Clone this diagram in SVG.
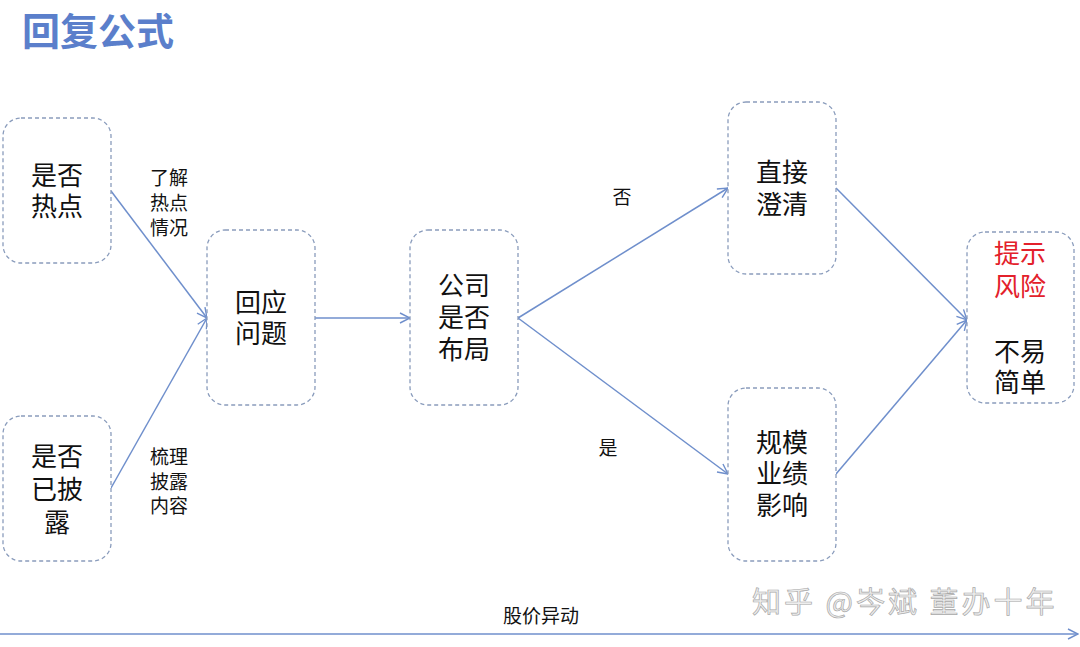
<svg xmlns="http://www.w3.org/2000/svg" width="1080" height="647" viewBox="0 0 1080 647">
<defs>
<style>
.box{fill:#ffffff;stroke:#8a9cbc;stroke-width:1.3;stroke-dasharray:4 3}
.t{font-family:"Noto Sans CJK SC","Noto Sans",sans-serif;font-size:26px;fill:#111;text-anchor:middle}
.lb{font-family:"Noto Sans CJK SC","Noto Sans",sans-serif;font-size:19px;fill:#111}
.red{fill:#e3212b}
.c{stroke:#6f8fcc;stroke-width:1.5;fill:none;marker-end:url(#arr)}
</style>
<marker id="arr" viewBox="0 0 12 12" refX="11" refY="6" markerWidth="12" markerHeight="12" markerUnits="userSpaceOnUse" orient="auto">
<path d="M1,1 L11,6 L1,11" fill="none" stroke="#6f8fcc" stroke-width="1.4"/>
</marker>
</defs>
<rect width="1080" height="647" fill="#ffffff"/>
<text x="22" y="45" font-family="'Noto Sans CJK SC','Noto Sans',sans-serif" font-size="38" font-weight="bold" fill="#5b7fcb">回复公式</text>

<g id="connectors">
<line class="c" x1="111" y1="191" x2="207" y2="318"/>
<line class="c" x1="111" y1="488" x2="207" y2="318"/>
<line class="c" x1="315" y1="318" x2="410" y2="318"/>
<line class="c" x1="518" y1="318" x2="728" y2="188"/>
<line class="c" x1="518" y1="318" x2="728" y2="474"/>
<line class="c" x1="836" y1="188" x2="967" y2="320"/>
<line class="c" x1="836" y1="474" x2="967" y2="320"/>
<line class="c" x1="0" y1="634" x2="1078" y2="634"/>
<text class="lb"><tspan x="150" y="185">了解</tspan><tspan x="150" y="210">热点</tspan><tspan x="150" y="235">情况</tspan></text>
<text class="lb"><tspan x="150" y="464">梳理</tspan><tspan x="150" y="489">披露</tspan><tspan x="150" y="513">内容</tspan></text>
<text class="lb" x="622" y="204" text-anchor="middle">否</text>
<text class="lb" x="608" y="455" text-anchor="middle">是</text>
<text class="lb" x="541" y="623" text-anchor="middle" font-size="20">股价异动</text>
</g>

<g id="n1">
<rect class="box" x="3" y="118" width="108" height="145" rx="18"/>
<text class="t"><tspan x="57" y="185">是否</tspan><tspan x="57" y="216">热点</tspan></text>
</g>
<g id="n2">
<rect class="box" x="3" y="416" width="108" height="145" rx="18"/>
<text class="t"><tspan x="57" y="466">是否</tspan><tspan x="57" y="499">已披</tspan><tspan x="57" y="532">露</tspan></text>
</g>
<g id="n3">
<rect class="box" x="207" y="230" width="108" height="175" rx="18"/>
<text class="t"><tspan x="261" y="312">回应</tspan><tspan x="261" y="343">问题</tspan></text>
</g>
<g id="n4">
<rect class="box" x="410" y="230" width="108" height="175" rx="18"/>
<text class="t"><tspan x="464" y="295">公司</tspan><tspan x="464" y="327">是否</tspan><tspan x="464" y="359">布局</tspan></text>
</g>
<g id="n5">
<rect class="box" x="728" y="102" width="108" height="172" rx="18"/>
<text class="t"><tspan x="782" y="182">直接</tspan><tspan x="782" y="214">澄清</tspan></text>
</g>
<g id="n6">
<rect class="box" x="728" y="388" width="108" height="173" rx="18"/>
<text class="t"><tspan x="782" y="452">规模</tspan><tspan x="782" y="483">业绩</tspan><tspan x="782" y="515">影响</tspan></text>
</g>
<g id="n7">
<rect class="box" x="967" y="232" width="107" height="171" rx="18"/>
<text class="t"><tspan class="red" x="1020" y="263">提示</tspan><tspan class="red" x="1020" y="296">风险</tspan><tspan x="1020" y="361">不易</tspan><tspan x="1020" y="392">简单</tspan></text>
</g>

<text x="752" y="613" font-family="'Noto Sans CJK SC','Noto Sans',sans-serif" font-size="29" letter-spacing="3" fill="#eeeeee" stroke="#a8a8a8" stroke-width="0.7">知乎 @岑斌 董办十年</text>
</svg>
